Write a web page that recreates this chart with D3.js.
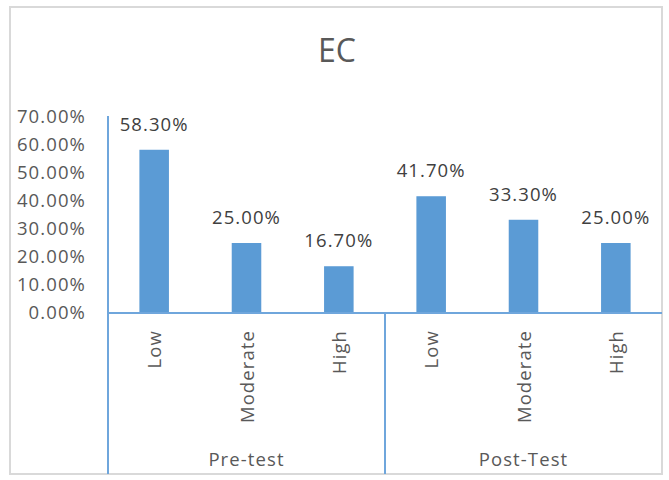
<!DOCTYPE html>
<html>
<head>
<meta charset="utf-8">
<title>EC</title>
<style>
  body { margin: 0; background: #fff; }
  svg { display: block; font-family: "Open Sans", sans-serif; }
  .lbl { font-size: 18.5px; letter-spacing: 1.1px; }
</style>
</head>
<body>
<script src="https://cdn.jsdelivr.net/npm/d3@7"></script>
<script>
  // chart data
  const groups = ["Pre-test", "Post-Test"];
  const levels = ["Low", "Moderate", "High"];
  const values = [58.3, 25.0, 16.7, 41.7, 33.3, 25.0];
  const yTicks = [0, 10, 20, 30, 40, 50, 60, 70];

  const width = 669, height = 480;
  const x0 = 108, x1 = 662, yTop = 117, yBase = 313, yBottom = 474;

  const rows = values.map((v, i) => ({
    key: i,
    group: groups[Math.floor(i / levels.length)],
    level: levels[i % levels.length],
    value: v
  }));

  const svg = d3.select("body").append("svg")
    .attr("width", width)
    .attr("height", height);

  // chart frame
  svg.append("rect")
    .attr("x", 10).attr("y", 7)
    .attr("width", 652).attr("height", 467)
    .attr("fill", "#fff")
    .attr("stroke", "#d9d9d9")
    .attr("stroke-width", 2);

  svg.append("text")
    .attr("x", 337).attr("y", 62)
    .attr("text-anchor", "middle")
    .attr("fill", "#595959")
    .style("font-size", "32px")
    .text("EC");

  const x = d3.scaleBand()
    .domain(rows.map(d => d.key))
    .range([x0, x1])
    .paddingInner(0.68)
    .paddingOuter(0.34);

  const y = d3.scaleLinear()
    .domain([0, 70])
    .range([yBase, yTop]);

  const fmt = d => d3.format(".2f")(d) + "%";

  // y axis labels
  svg.append("g")
    .selectAll("text")
    .data(yTicks)
    .join("text")
      .attr("class", "lbl")
      .attr("x", 86)
      .attr("y", d => y(d))
      .attr("dy", "0.35em")
      .attr("text-anchor", "end")
      .attr("fill", "#595959")
      .text(fmt);

  // bars
  svg.append("g")
    .selectAll("rect")
    .data(rows)
    .join("rect")
      .attr("x", d => x(d.key))
      .attr("y", d => y(d.value))
      .attr("width", x.bandwidth())
      .attr("height", d => yBase - y(d.value))
      .attr("fill", "#5b9bd5");

  // data labels
  svg.append("g")
    .selectAll("text")
    .data(rows)
    .join("text")
      .attr("class", "lbl")
      .attr("x", d => x(d.key) + x.bandwidth() / 2)
      .attr("y", d => y(d.value) - 19)
      .attr("text-anchor", "middle")
      .attr("fill", "#404040")
      .text(d => fmt(d.value));

  // axes lines
  const axisColor = "#6fa6dc";
  svg.append("line")
    .attr("x1", x0).attr("x2", x0)
    .attr("y1", yTop - 1).attr("y2", yBottom)
    .attr("stroke", axisColor).attr("stroke-width", 2);
  svg.append("line")
    .attr("x1", x0).attr("x2", x1)
    .attr("y1", yBase).attr("y2", yBase)
    .attr("stroke", axisColor).attr("stroke-width", 2);

  const groupW = (x1 - x0) / groups.length;
  svg.append("g")
    .selectAll("line")
    .data(groups.slice(1))
    .join("line")
      .attr("x1", (d, i) => x0 + groupW * (i + 1))
      .attr("x2", (d, i) => x0 + groupW * (i + 1))
      .attr("y1", yBase).attr("y2", yBottom)
      .attr("stroke", axisColor).attr("stroke-width", 2);

  // category labels, rotated
  svg.append("g")
    .selectAll("text")
    .data(rows)
    .join("text")
      .attr("class", "lbl")
      .attr("transform", d => `translate(${x(d.key) + x.bandwidth() / 2 + 7},330) rotate(-90)`)
      .attr("text-anchor", "end")
      .attr("fill", "#595959")
      .text(d => d.level);

  // group labels
  svg.append("g")
    .selectAll("text")
    .data(groups)
    .join("text")
      .attr("class", "lbl")
      .attr("x", (d, i) => x0 + groupW * (i + 0.5))
      .attr("y", 466)
      .attr("text-anchor", "middle")
      .attr("fill", "#595959")
      .text(d => d);
</script>
</body>
</html>
